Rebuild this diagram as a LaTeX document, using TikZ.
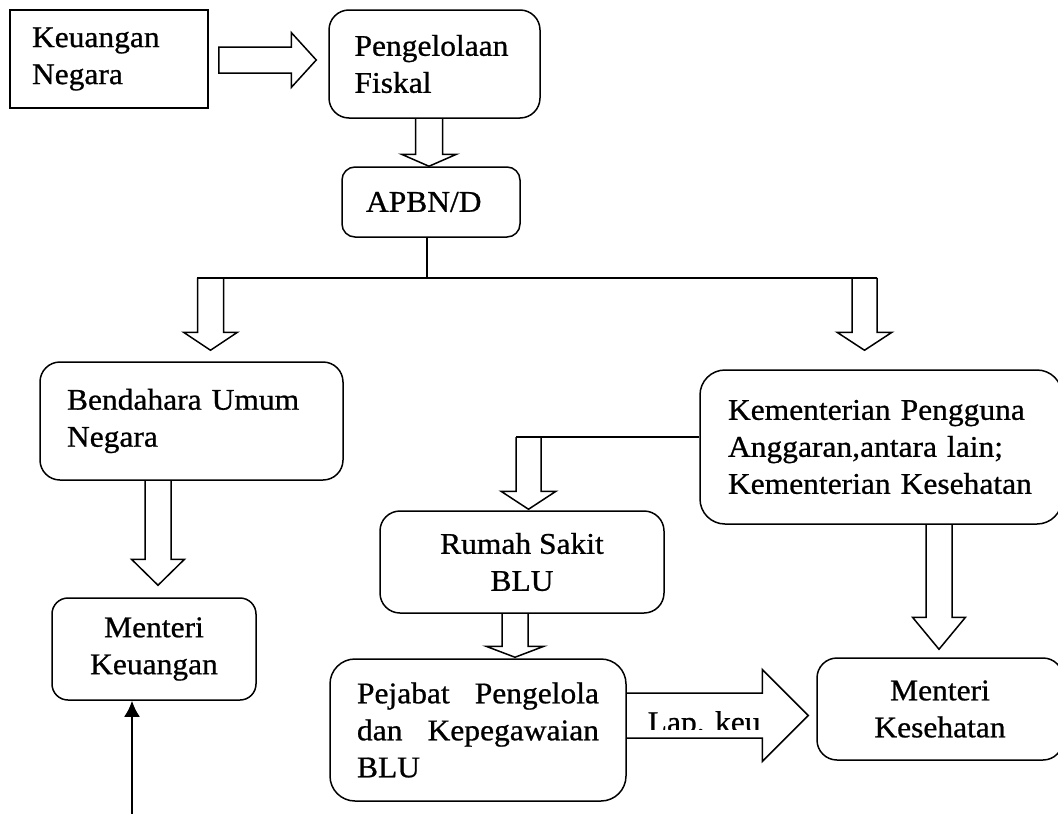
\documentclass[tikz,border=0pt]{standalone}
\usepackage{fontspec}
\setmainfont[FakeStretch=1.05,FakeBold=0.8]{Liberation Serif}
\usetikzlibrary{calc,arrows.meta}

% block arrows: start point, tip, half shaft, half head, head length
\newcommand{\fatdown}[5]{%
  \draw[blockarrow] let \p1=(#1), \p2=(#2) in
    (\x2-#3pt,\y1) -- (\x2-#3pt,\y2+#5pt) -- (\x2-#4pt,\y2+#5pt) -- (\p2)
    -- (\x2+#4pt,\y2+#5pt) -- (\x2+#3pt,\y2+#5pt) -- (\x2+#3pt,\y1);}
\newcommand{\fatright}[6][]{%
  \draw[blockarrow] let \p1=(#2), \p2=(#3) in
    (\x1,\y2+#4pt) -- (\x2-#6pt,\y2+#4pt) -- (\x2-#6pt,\y2+#5pt) -- (\p2)
    -- (\x2-#6pt,\y2-#5pt) -- (\x2-#6pt,\y2-#4pt) -- (\x1,\y2-#4pt) #1;}

\begin{document}
\begin{tikzpicture}[x=1pt,y=-1pt,line width=1.5pt,
    font=\fontsize{30}{37}\selectfont,
    box/.style={draw, rounded corners=20pt, inner sep=0pt, align=left},
    midbox/.style={box, align=center},
    blockarrow/.style={line join=miter}]
    \useasboundingbox (0,0) rectangle (1058,814);

    % Nodes
    \node[box, rounded corners=0pt, minimum width=198pt, minimum height=98pt,
          text width=154pt, inner xsep=22pt] (keu) at (109,59) {Keuangan\\Negara};
    \node[box, minimum width=211pt, minimum height=108pt,
          text width=160pt, inner xsep=25.5pt] (fiskal) at (434.5,64) {Pengelolaan\\Fiskal};
    \node[box, rounded corners=13pt, minimum width=178pt, minimum height=70pt,
          text width=130pt, inner xsep=24pt] (apbn) at (431,202) {APBN/D};
    \node[box, minimum width=303pt, minimum height=118pt,
          text width=249pt, inner xsep=27pt] (bun) at (191.5,421) {Bendahara Umum\\Negara};
    \node[box, rounded corners=25pt, minimum width=362pt, minimum height=154pt,
          text width=306pt, inner xsep=28pt] (kem) at (881,447)
          {Kementerian Pengguna\\Anggaran,antara lain;\\Kementerian Kesehatan};
    \node[midbox, minimum width=284pt, minimum height=102pt] (rumah) at (522,562) {Rumah Sakit\\BLU};
    \node[box, rounded corners=25pt, minimum width=296pt, minimum height=142pt,
          text width=242pt, inner xsep=27pt] (pej) at (478,730)
          {Pejabat \hfill Pengelola\\dan \hfill Kepegawaian\\BLU};
    \node[midbox, rounded corners=16pt, minimum width=204pt, minimum height=102pt] (mkeu) at (154,649) {Menteri\\Keuangan};
    \node[midbox, minimum width=246pt, minimum height=102pt] (mkes) at (940,709) {Menteri\\Kesehatan};

    % Lines
    \draw ($(apbn.south)+(-4,0)$) -- ++(0,40) coordinate (fork);
    \coordinate (forkL) at ($(fork)+(-230,0)$);
    \coordinate (forkR) at ($(fork)+(450,0)$);
    \draw (forkL) -- (forkR);
    \coordinate (kemout) at ($(kem.west)+(0,-10)$);
    \draw (kemout) -- ($(kemout -| rumah.north)+(-6,0)$);

    % Arrows
    \fatright[-- cycle]{$(keu.east)+(10,0)$}{$(fiskal.west)+(-12,-4)$}{13}{27.5}{25}
    \fatdown{fiskal.south}{$(apbn.north)+(-2,0)$}{13.5}{27.5}{12}
    \fatdown{forkL}{$(bun.north)+(19,-11)$}{13}{27}{18}
    \fatdown{forkR}{$(kem.north)+(-16.5,-19)$}{12.5}{27.5}{18}
    \fatdown{bun.south}{$(mkeu.north)+(4,-12)$}{13}{26.5}{26}
    \fatdown{kemout}{$(rumah.north)+(6.5,-1)$}{12.5}{27.5}{18}
    \fatdown{rumah.south}{$(pej.north)+(37,-1)$}{13}{29}{11}
    \fatdown{kem.south}{$(mkes.north)+(-1,-8)$}{13}{26.5}{32}
    \fatright{pej.east}{$(mkes.west)+(-8,6.5)$}{22.5}{46}{46}

    \begin{scope}
      \clip (640,700) rectangle (770,729);
      \node[anchor=base west, inner sep=0pt] (lapkeu) at (647,732) {Lap. keu};
    \end{scope}

    \coordinate (lapor) at ($(mkeu.south)+(-22,114)$);
    \draw[-{Latex[length=16pt,width=16pt]}, line width=2.2pt] (lapor) -- (lapor |- mkeu.south);
\end{tikzpicture}
\end{document}
